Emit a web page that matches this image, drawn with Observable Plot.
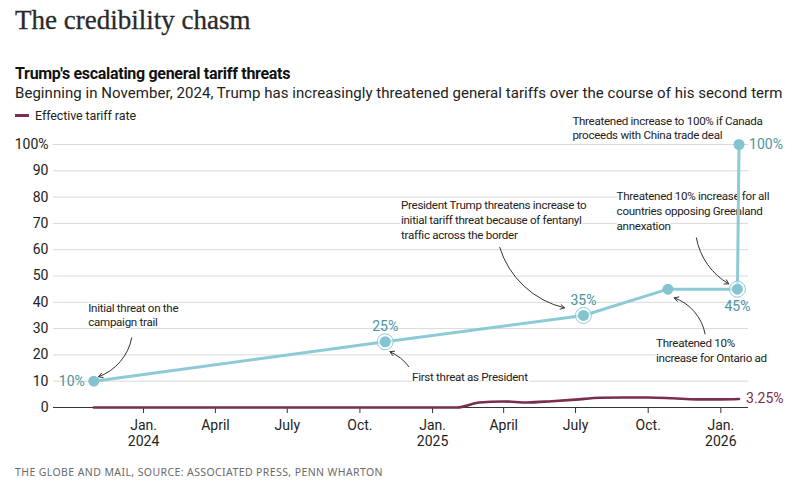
<!DOCTYPE html>
<html>
<head>
<meta charset="utf-8">
<script src="https://cdn.jsdelivr.net/npm/d3@7"></script>
<script src="https://cdn.jsdelivr.net/npm/@observablehq/plot@0.6"></script>
<style>
  html, body { margin: 0; padding: 0; background: #fff; }
  #wrap { position: relative; width: 800px; height: 486px; overflow: hidden; font-family: "Roboto", sans-serif; color: #222; }
  .abs { position: absolute; left: 15px; white-space: nowrap; }
  #title { top: 5px; font-family: "Liberation Serif", serif; font-size: 27px; color: #2a2a2a; -webkit-text-stroke: 0.3px #2a2a2a; }
  #sub { top: 64px; font-size: 16px; letter-spacing: -0.3px; font-weight: bold; color: #111; }
  #desc { top: 84px; font-size: 15px; letter-spacing: 0.05px; color: #222; }
  #legend { top: 108px; font-size: 12.5px; letter-spacing: -0.1px; color: #222; display: flex; align-items: center; }
  #legend .sw { display: inline-block; width: 14px; height: 3px; background: #7a2d4d; margin-right: 6px; }
  #chart { position: absolute; left: 0; top: 100px; }
  #foot { top: 465px; font-size: 10.5px; letter-spacing: 0.4px; color: #6b6b6b; font-family: "Noto Sans", sans-serif; }
  .notes text { letter-spacing: -0.3px; }
</style>
</head>
<body>
<div id="wrap">
  <div id="title" class="abs">The credibility chasm</div>
  <div id="sub" class="abs">Trump's escalating general tariff threats</div>
  <div id="desc" class="abs">Beginning in November, 2024, Trump has increasingly threatened general tariffs over the course of his second term</div>
  <div id="legend" class="abs"><span class="sw"></span>Effective tariff rate</div>
  <div id="chart"></div>
  <div id="foot" class="abs">THE GLOBE AND MAIL, SOURCE: ASSOCIATED PRESS, PENN WHARTON</div>
</div>
<script>
// Threat series
const threatDates = ["2023-10-30", "2024-11-02", "2025-07-11", "2025-10-26", "2026-01-22", "2026-01-24"];
const threatValues = [10, 25, 35, 45, 45, 100];
const threatRinged = [false, true, true, false, true, false];
const threatLabels = ["10%", "25%", "35%", "", "45%", "100%"];

// Effective tariff rate series
const rateDates = ["2023-10-30", "2025-02-01", "2025-03-01", "2025-04-01", "2025-05-01", "2025-06-01", "2025-07-01", "2025-08-01", "2025-09-01", "2025-10-01", "2025-11-01", "2025-12-01", "2026-01-01", "2026-01-24"];
const rateValues = [0, 0, 1.9, 2.3, 1.9, 2.4, 3.0, 3.7, 3.8, 3.8, 3.5, 3.1, 3.1, 3.25];
const rateEndLabel = "3.25%";

// Axis ticks
const xTickDates = ["2024-01-01", "2024-04-01", "2024-07-01", "2024-10-01", "2025-01-01", "2025-04-01", "2025-07-01", "2025-10-01", "2026-01-01"];
const xTickLabels = ["Jan.\n2024", "April", "July", "Oct.", "Jan.\n2025", "April", "July", "Oct.", "Jan.\n2026"];
const yTickValues = [0, 10, 20, 30, 40, 50, 60, 70, 80, 90, 100];
const yTickLabels = ["0", "10", "20", "30", "40", "50", "60", "70", "80", "90", "100%"];

// Annotations (text anchored at top-left of block)
const noteTexts = [
  "Initial threat on the\ncampaign trail",
  "First threat as President",
  "President Trump threatens increase to\ninitial tariff threat because of fentanyl\ntraffic across the border",
  "Threatened 10% increase for all\ncountries opposing Greenland\nannexation",
  "Threatened 10%\nincrease for Ontario ad",
  "Threatened increase to 100% if Canada\nproceeds with China trade deal"
];
const noteDates = ["2023-10-23", "2024-12-06", "2024-11-22", "2025-08-22", "2025-10-11", "2025-06-27"];
const noteValues = [40.5, 14.2, 79.3, 82.8, 26.9, 111.6];

// Annotation arrows
const arrowFromDates = ["2023-12-17", "2024-12-02", "2025-03-27", "2025-12-01", "2025-12-12"];
const arrowFromValues = [26.5, 15.5, 60.9, 64.5, 28.0];
const arrowToDates = ["2023-11-05", "2024-11-08", "2025-06-17", "2026-01-11", "2025-11-03"];
const arrowToValues = [11.7, 21.2, 37.9, 47.0, 41.7];
const arrowBends = [30, -15, -30, -25, -30];

const P = d3.utcParse("%Y-%m-%d");
const threats = threatDates.map((d, i) => ({date: P(d), value: threatValues[i], ring: threatRinged[i], label: threatLabels[i]}));
const rates = rateDates.map((d, i) => ({date: P(d), value: rateValues[i]}));
const notes = noteTexts.map((t, i) => ({text: t, date: P(noteDates[i]), value: noteValues[i]}));
const arrows = arrowFromDates.map((d, i) => ({x1: P(d), y1: arrowFromValues[i], x2: P(arrowToDates[i]), y2: arrowToValues[i], bend: arrowBends[i]}));
const xTicks = xTickDates.map(P);

const BLUE = "#8ccbd6", BLUE_DOT = "#84c4d0", BLUE_TXT = "#4f929f", MAROON = "#7a2d4d";
const FONT = "Roboto, sans-serif";

const lbl = (i, opts) => Plot.text([threats[i]], {x: "date", y: "value", text: "label", fill: BLUE_TXT, fontSize: 14, ...opts});

const chart = Plot.plot({
  width: 800,
  height: 355,
  marginLeft: 53,
  marginRight: 52,
  marginTop: 44,
  marginBottom: 48,
  style: {fontFamily: FONT, fontSize: "13px", color: "#222", overflow: "visible"},
  x: {type: "utc", domain: [P("2023-09-09"), P("2026-02-05")]},
  y: {domain: [0, 100]},
  marks: [
    Plot.gridY(yTickValues.filter(v => v > 0), {stroke: "#d9d9d9", strokeOpacity: 1, strokeWidth: 1}),
    Plot.axisY(yTickValues, {tickSize: 0, tickPadding: 5, fontSize: 14, tickFormat: d => yTickLabels[yTickValues.indexOf(d)], fill: "#222"}),
    Plot.axisX(xTicks, {tickSize: 6, tickPadding: 6, fontSize: 14, stroke: "#333", fill: "#222", tickFormat: d => xTickLabels[xTicks.findIndex(t => +t === +d)], lineHeight: 1.1}),
    Plot.ruleY([0], {stroke: "#333", strokeWidth: 1.2}),
    // annotations
    Plot.text(notes, {x: "date", y: "value", text: "text", textAnchor: "start", lineAnchor: "top", lineHeight: 1.28, fontSize: 11.6, fill: "#222", stroke: "white", strokeWidth: 3, className: "notes"}),
    ...arrows.map(a => Plot.arrow([a], {x1: "x1", y1: "y1", x2: "x2", y2: "y2", bend: a.bend, stroke: "#333", strokeWidth: 1, headLength: 7})),
    // effective tariff rate
    Plot.line(rates, {x: "date", y: "value", stroke: MAROON, strokeWidth: 2.6, curve: "monotone-x"}),
    Plot.text([rates[rates.length - 1]], {x: "date", y: "value", text: () => rateEndLabel, textAnchor: "start", dx: 7, fill: MAROON, fontSize: 14}),
    // threats
    Plot.line(threats, {x: "date", y: "value", stroke: BLUE, strokeWidth: 3}),
    Plot.dot(threats.filter(d => d.ring), {x: "date", y: "value", r: 8, fill: "white", fillOpacity: 0.6, stroke: BLUE, strokeWidth: 1}),
    Plot.dot(threats, {x: "date", y: "value", r: 5.5, fill: BLUE_DOT}),
    lbl(0, {textAnchor: "end", dx: -9}),
    lbl(1, {dy: -15}),
    lbl(2, {dy: -15}),
    lbl(4, {dy: 17}),
    lbl(5, {textAnchor: "start", dx: 10})
  ]
});
document.getElementById("chart").appendChild(chart);
// fallback in case className is not supported: first text mark group is the annotations
const firstText = chart.querySelector('g[aria-label="text"]');
if (firstText) firstText.style.letterSpacing = "-0.3px";
</script>
</body>
</html>
